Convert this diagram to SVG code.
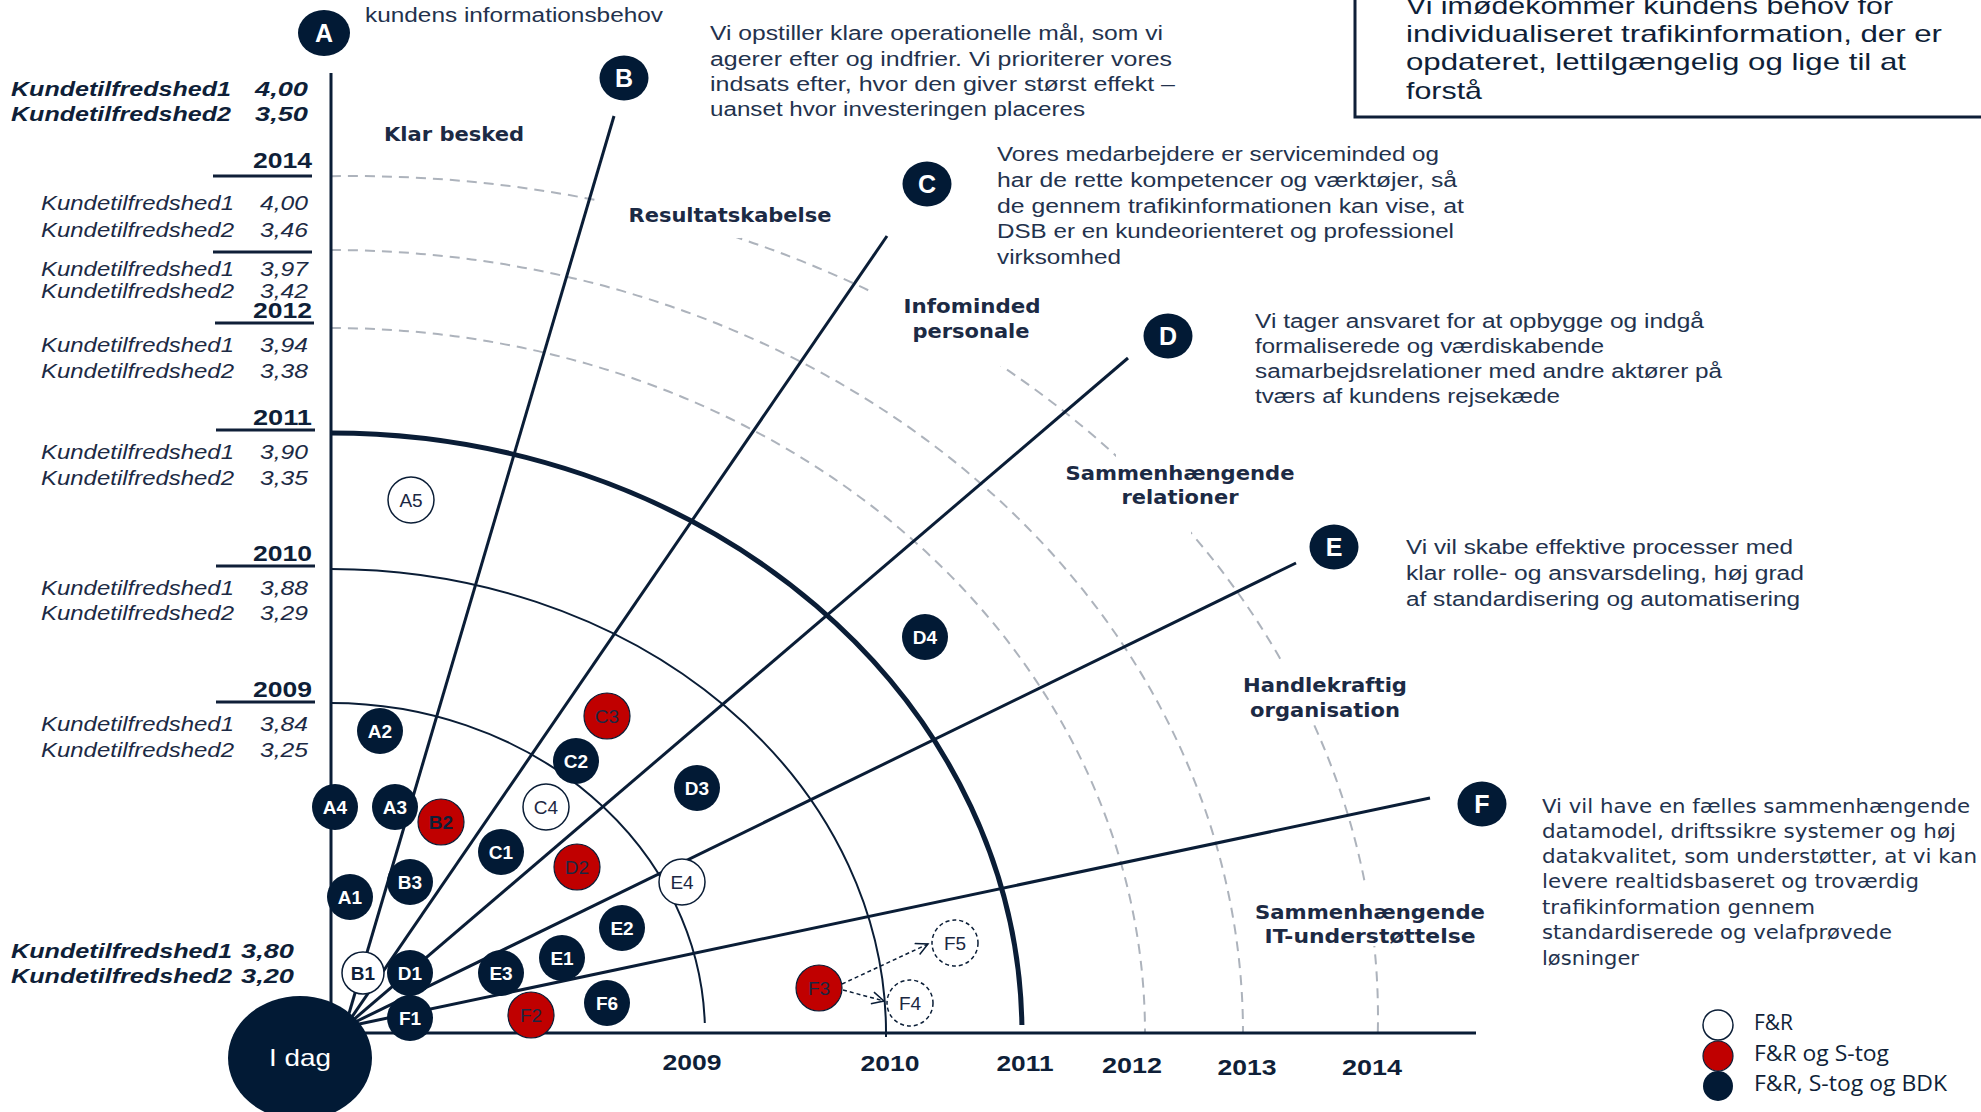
<svg xmlns="http://www.w3.org/2000/svg" width="1981" height="1112" viewBox="0 0 1981 1112">
<style>
.ln{stroke:#0a1d36;fill:none;stroke-width:3}
.arc{stroke:#0a1d36;fill:none;stroke-width:2}
.arcT{stroke:#0a1d36;fill:none;stroke-width:5}
.dash{stroke:#adb3bc;fill:none;stroke-width:2;stroke-dasharray:10 7}
.ul{stroke:#0f1f38;stroke-width:3}
.nv{fill:#021a35}
.rd{fill:#c00000;stroke:#0a1d36;stroke-width:1.2}
.wh{fill:#fff;stroke:#0a1d36;stroke-width:1.5}
.whd{fill:#fff;stroke:#0a1d36;stroke-width:1.5;stroke-dasharray:4 3}
.tw{font-family:"Liberation Sans",Arial,sans-serif;font-weight:bold;font-size:19px;fill:#fff;text-anchor:middle}
.tn{font-family:"Liberation Sans",Arial,sans-serif;font-size:19px;fill:#1b2742;text-anchor:middle}
.tnb{font-family:"Liberation Sans",Arial,sans-serif;font-weight:bold;font-size:19px;fill:#0f1f38;text-anchor:middle}
.hd{font-family:"Liberation Sans",Arial,sans-serif;font-weight:bold;font-size:25px;fill:#fff;text-anchor:middle}
.desc{font-family:"Liberation Sans",Arial,sans-serif;font-size:20px;fill:#23324d}
.descF{font-family:"DejaVu Sans",Verdana,sans-serif;font-size:19px;fill:#23324d}
.box{font-family:"Liberation Sans",Arial,sans-serif;font-size:24px;fill:#0f1f38}
.cat{font-family:"DejaVu Sans",Verdana,sans-serif;font-weight:bold;font-size:19px;fill:#1c2a44;text-anchor:middle}
.yr{font-family:"Liberation Sans",Arial,sans-serif;font-weight:bold;font-size:22px;fill:#0f1f38}
.ki{font-family:"Liberation Sans",Arial,sans-serif;font-style:italic;font-size:21px;fill:#1c2a44}
.kb{font-family:"Liberation Sans",Arial,sans-serif;font-style:italic;font-weight:bold;font-size:21px;fill:#0f1f38}
.leg{font-family:"Open Sans","Liberation Sans",sans-serif;font-size:21px;fill:#0f1f38}
.arw{stroke:#0a1d36;stroke-width:1.5;fill:none;stroke-dasharray:4 3}
</style>
<defs>
<marker id="arr" markerUnits="userSpaceOnUse" markerWidth="16" markerHeight="16" refX="13" refY="7" orient="auto">
<path d="M1,1 L13,7 L1,13" fill="none" stroke="#0a1d36" stroke-width="1.5"/>
</marker>
<mask id="gaps" maskUnits="userSpaceOnUse" x="0" y="0" width="1981" height="1112">
<rect x="0" y="0" width="1981" height="1112" fill="#fff"/>
<rect x="598" y="186" width="143" height="52" fill="#000"/>
<rect x="873" y="278" width="130" height="88" fill="#000"/>
<rect x="1116" y="438" width="75" height="100" fill="#000"/>
<rect x="1240" y="660" width="170" height="62" fill="#000"/>
<rect x="1250" y="882" width="240" height="64" fill="#000"/>
</mask>
</defs>
<rect x="0" y="0" width="1981" height="1112" fill="#fff"/>

<g id="box">
<rect x="1355" y="-6" width="700" height="123" fill="#fff" stroke="#0f1f38" stroke-width="3"/>
<text class="box" x="1406" y="14" textLength="487" lengthAdjust="spacingAndGlyphs">Vi imødekommer kundens behov for</text>
<text class="box" x="1406" y="42" textLength="536" lengthAdjust="spacingAndGlyphs">individualiseret trafikinformation, der er</text>
<text class="box" x="1406" y="70" textLength="500" lengthAdjust="spacingAndGlyphs">opdateret, lettilgængelig og lige til at</text>
<text class="box" x="1406" y="99" textLength="76" lengthAdjust="spacingAndGlyphs">forstå</text>
</g>

<g id="connectors">
<g id="dashed-arcs" mask="url(#gaps)">
<path class="dash" d="M331,328 A814,705 0 0 1 1145,1033"/>
<path class="dash" d="M331,250 A912,783 0 0 1 1243,1033"/>
<path class="dash" d="M331,176.2 A1026,841 0 0 1 1377.8,1033"/>
</g>
<path class="arc" d="M331,703 A374,330 0 0 1 704.8,1023"/>
<path class="arc" d="M331,569 A555,464 0 0 1 886,1037"/>
<path class="arcT" d="M331,433 A691,600 0 0 1 1021.9,1025"/>
<line class="ln" x1="331" y1="1010" x2="331" y2="73"/>
<line class="ln" x1="350" y1="1033" x2="1476" y2="1033"/>
<line class="ln" x1="345" y1="1027" x2="614" y2="116"/>
<line class="ln" x1="345" y1="1027" x2="887" y2="236"/>
<line class="ln" x1="345" y1="1027" x2="1128" y2="358"/>
<line class="ln" x1="345" y1="1027" x2="1296" y2="563"/>
<line class="ln" x1="345" y1="1027" x2="1430" y2="798"/>
<line class="arw" x1="842" y1="984" x2="928" y2="944" marker-end="url(#arr)"/>
<line class="arw" x1="843" y1="990" x2="884" y2="1001" marker-end="url(#arr)"/>
</g>

<g id="left-scale">
<text class="kb" x="11" y="96" textLength="220" lengthAdjust="spacingAndGlyphs">Kundetilfredshed1</text>
<text class="kb" x="308" y="96" text-anchor="end" textLength="53" lengthAdjust="spacingAndGlyphs">4,00</text>
<text class="kb" x="11" y="121" textLength="220" lengthAdjust="spacingAndGlyphs">Kundetilfredshed2</text>
<text class="kb" x="308" y="121" text-anchor="end" textLength="53" lengthAdjust="spacingAndGlyphs">3,50</text>

<text class="yr" x="312" y="168" text-anchor="end" textLength="59" lengthAdjust="spacingAndGlyphs">2014</text>
<line class="ul" x1="213" y1="176" x2="312" y2="176"/>
<text class="ki" x="41" y="210" textLength="193" lengthAdjust="spacingAndGlyphs">Kundetilfredshed1</text>
<text class="ki" x="308" y="210" text-anchor="end" textLength="48" lengthAdjust="spacingAndGlyphs">4,00</text>
<text class="ki" x="41" y="237" textLength="193" lengthAdjust="spacingAndGlyphs">Kundetilfredshed2</text>
<text class="ki" x="308" y="237" text-anchor="end" textLength="48" lengthAdjust="spacingAndGlyphs">3,46</text>
<line class="ul" x1="213" y1="252" x2="312" y2="252"/>
<text class="ki" x="41" y="276" textLength="193" lengthAdjust="spacingAndGlyphs">Kundetilfredshed1</text>
<text class="ki" x="308" y="276" text-anchor="end" textLength="48" lengthAdjust="spacingAndGlyphs">3,97</text>
<text class="ki" x="41" y="298" textLength="193" lengthAdjust="spacingAndGlyphs">Kundetilfredshed2</text>
<text class="ki" x="308" y="298" text-anchor="end" textLength="48" lengthAdjust="spacingAndGlyphs">3,42</text>
<text class="yr" x="312" y="318" text-anchor="end" textLength="59" lengthAdjust="spacingAndGlyphs">2012</text>
<line class="ul" x1="215" y1="323" x2="314" y2="323"/>
<text class="ki" x="41" y="352" textLength="193" lengthAdjust="spacingAndGlyphs">Kundetilfredshed1</text>
<text class="ki" x="308" y="352" text-anchor="end" textLength="48" lengthAdjust="spacingAndGlyphs">3,94</text>
<text class="ki" x="41" y="378" textLength="193" lengthAdjust="spacingAndGlyphs">Kundetilfredshed2</text>
<text class="ki" x="308" y="378" text-anchor="end" textLength="48" lengthAdjust="spacingAndGlyphs">3,38</text>

<text class="yr" x="312" y="425" text-anchor="end" textLength="59" lengthAdjust="spacingAndGlyphs">2011</text>
<line class="ul" x1="216" y1="430" x2="315" y2="430"/>
<text class="ki" x="41" y="459" textLength="193" lengthAdjust="spacingAndGlyphs">Kundetilfredshed1</text>
<text class="ki" x="308" y="459" text-anchor="end" textLength="48" lengthAdjust="spacingAndGlyphs">3,90</text>
<text class="ki" x="41" y="485" textLength="193" lengthAdjust="spacingAndGlyphs">Kundetilfredshed2</text>
<text class="ki" x="308" y="485" text-anchor="end" textLength="48" lengthAdjust="spacingAndGlyphs">3,35</text>

<text class="yr" x="312" y="561" text-anchor="end" textLength="59" lengthAdjust="spacingAndGlyphs">2010</text>
<line class="ul" x1="216" y1="566" x2="315" y2="566"/>
<text class="ki" x="41" y="595" textLength="193" lengthAdjust="spacingAndGlyphs">Kundetilfredshed1</text>
<text class="ki" x="308" y="595" text-anchor="end" textLength="48" lengthAdjust="spacingAndGlyphs">3,88</text>
<text class="ki" x="41" y="620" textLength="193" lengthAdjust="spacingAndGlyphs">Kundetilfredshed2</text>
<text class="ki" x="308" y="620" text-anchor="end" textLength="48" lengthAdjust="spacingAndGlyphs">3,29</text>

<text class="yr" x="312" y="697" text-anchor="end" textLength="59" lengthAdjust="spacingAndGlyphs">2009</text>
<line class="ul" x1="216" y1="702" x2="315" y2="702"/>
<text class="ki" x="41" y="731" textLength="193" lengthAdjust="spacingAndGlyphs">Kundetilfredshed1</text>
<text class="ki" x="308" y="731" text-anchor="end" textLength="48" lengthAdjust="spacingAndGlyphs">3,84</text>
<text class="ki" x="41" y="757" textLength="193" lengthAdjust="spacingAndGlyphs">Kundetilfredshed2</text>
<text class="ki" x="308" y="757" text-anchor="end" textLength="48" lengthAdjust="spacingAndGlyphs">3,25</text>

<text class="kb" x="11" y="958" textLength="221" lengthAdjust="spacingAndGlyphs">Kundetilfredshed1</text>
<text class="kb" x="294" y="958" text-anchor="end" textLength="53" lengthAdjust="spacingAndGlyphs">3,80</text>
<text class="kb" x="11" y="983" textLength="221" lengthAdjust="spacingAndGlyphs">Kundetilfredshed2</text>
<text class="kb" x="294" y="983" text-anchor="end" textLength="53" lengthAdjust="spacingAndGlyphs">3,20</text>
</g>

<g id="axis-years">
<text class="yr" x="692" y="1070" text-anchor="middle" textLength="59" lengthAdjust="spacingAndGlyphs">2009</text>
<text class="yr" x="890" y="1071" text-anchor="middle" textLength="59" lengthAdjust="spacingAndGlyphs">2010</text>
<text class="yr" x="1025" y="1071" text-anchor="middle" textLength="57" lengthAdjust="spacingAndGlyphs">2011</text>
<text class="yr" x="1132" y="1073" text-anchor="middle" textLength="60" lengthAdjust="spacingAndGlyphs">2012</text>
<text class="yr" x="1247" y="1075" text-anchor="middle" textLength="59" lengthAdjust="spacingAndGlyphs">2013</text>
<text class="yr" x="1372" y="1075" text-anchor="middle" textLength="60" lengthAdjust="spacingAndGlyphs">2014</text>
</g>

<g id="categories">
<text class="cat" x="454" y="141" textLength="140" lengthAdjust="spacingAndGlyphs">Klar besked</text>
<text class="cat" x="730" y="222" textLength="203" lengthAdjust="spacingAndGlyphs">Resultatskabelse</text>
<text class="cat" x="972" y="313" textLength="137" lengthAdjust="spacingAndGlyphs">Infominded</text>
<text class="cat" x="971" y="338" textLength="117" lengthAdjust="spacingAndGlyphs">personale</text>
<text class="cat" x="1180" y="480" textLength="229" lengthAdjust="spacingAndGlyphs">Sammenhængende</text>
<text class="cat" x="1180" y="504" textLength="117" lengthAdjust="spacingAndGlyphs">relationer</text>
<text class="cat" x="1325" y="692" textLength="164" lengthAdjust="spacingAndGlyphs">Handlekraftig</text>
<text class="cat" x="1325" y="717" textLength="150" lengthAdjust="spacingAndGlyphs">organisation</text>
<text class="cat" x="1370" y="919" textLength="230" lengthAdjust="spacingAndGlyphs">Sammenhængende</text>
<text class="cat" x="1370" y="943" textLength="211" lengthAdjust="spacingAndGlyphs">IT-understøttelse</text>
</g>

<g id="descriptions">
<text class="desc" x="365" y="22" textLength="298" lengthAdjust="spacingAndGlyphs">kundens informationsbehov</text>
<text class="desc" x="710" y="40" textLength="453" lengthAdjust="spacingAndGlyphs">Vi opstiller klare operationelle mål, som vi</text>
<text class="desc" x="710" y="66" textLength="462" lengthAdjust="spacingAndGlyphs">agerer efter og indfrier. Vi prioriterer vores</text>
<text class="desc" x="710" y="91" textLength="465" lengthAdjust="spacingAndGlyphs">indsats efter, hvor den giver størst effekt –</text>
<text class="desc" x="710" y="116" textLength="375" lengthAdjust="spacingAndGlyphs">uanset hvor investeringen placeres</text>

<text class="desc" x="997" y="161" textLength="442" lengthAdjust="spacingAndGlyphs">Vores medarbejdere er serviceminded og</text>
<text class="desc" x="997" y="187" textLength="460" lengthAdjust="spacingAndGlyphs">har de rette kompetencer og værktøjer, så</text>
<text class="desc" x="997" y="213" textLength="467" lengthAdjust="spacingAndGlyphs">de gennem trafikinformationen kan vise, at</text>
<text class="desc" x="997" y="238" textLength="457" lengthAdjust="spacingAndGlyphs">DSB er en kundeorienteret og professionel</text>
<text class="desc" x="997" y="264" textLength="124" lengthAdjust="spacingAndGlyphs">virksomhed</text>

<text class="desc" x="1255" y="328" textLength="449" lengthAdjust="spacingAndGlyphs">Vi tager ansvaret for at opbygge og indgå</text>
<text class="desc" x="1255" y="353" textLength="349" lengthAdjust="spacingAndGlyphs">formaliserede og værdiskabende</text>
<text class="desc" x="1255" y="378" textLength="467" lengthAdjust="spacingAndGlyphs">samarbejdsrelationer med andre aktører på</text>
<text class="desc" x="1255" y="403" textLength="305" lengthAdjust="spacingAndGlyphs">tværs af kundens rejsekæde</text>

<text class="desc" x="1406" y="554" textLength="387" lengthAdjust="spacingAndGlyphs">Vi vil skabe effektive processer med</text>
<text class="desc" x="1406" y="580" textLength="398" lengthAdjust="spacingAndGlyphs">klar rolle- og ansvarsdeling, høj grad</text>
<text class="desc" x="1406" y="606" textLength="394" lengthAdjust="spacingAndGlyphs">af standardisering og automatisering</text>

<text class="descF" x="1542" y="813" textLength="428" lengthAdjust="spacingAndGlyphs">Vi vil have en fælles sammenhængende</text>
<text class="descF" x="1542" y="838" textLength="414" lengthAdjust="spacingAndGlyphs">datamodel, driftssikre systemer og høj</text>
<text class="descF" x="1542" y="863" textLength="435" lengthAdjust="spacingAndGlyphs">datakvalitet, som understøtter, at vi kan</text>
<text class="descF" x="1542" y="888" textLength="377" lengthAdjust="spacingAndGlyphs">levere realtidsbaseret og troværdig</text>
<text class="descF" x="1542" y="914" textLength="273" lengthAdjust="spacingAndGlyphs">trafikinformation gennem</text>
<text class="descF" x="1542" y="939" textLength="350" lengthAdjust="spacingAndGlyphs">standardiserede og velafprøvede</text>
<text class="descF" x="1542" y="965" textLength="97" lengthAdjust="spacingAndGlyphs">løsninger</text>
</g>

<g id="node-A-head"><ellipse class="nv" cx="324" cy="33" rx="26" ry="23"/><text class="hd" x="324" y="42">A</text></g>
<g id="node-B-head"><ellipse class="nv" cx="624" cy="78" rx="24.5" ry="22.5"/><text class="hd" x="624" y="87">B</text></g>
<g id="node-C-head"><ellipse class="nv" cx="927" cy="184" rx="24.5" ry="22.5"/><text class="hd" x="927" y="193">C</text></g>
<g id="node-D-head"><ellipse class="nv" cx="1168" cy="336" rx="24.5" ry="22.5"/><text class="hd" x="1168" y="345">D</text></g>
<g id="node-E-head"><ellipse class="nv" cx="1334" cy="547" rx="24.5" ry="22.5"/><text class="hd" x="1334" y="556">E</text></g>
<g id="node-F-head"><ellipse class="nv" cx="1482" cy="804" rx="24.5" ry="22.5"/><text class="hd" x="1482" y="813">F</text></g>

<g id="node-A5"><circle class="wh" cx="411" cy="500" r="23"/><text class="tn" x="411" y="507">A5</text></g>
<g id="node-A2"><circle class="nv" cx="380" cy="731" r="23"/><text class="tw" x="380" y="738">A2</text></g>
<g id="node-C3"><circle class="rd" cx="607" cy="716" r="23"/><text class="tn" x="607" y="723">C3</text></g>
<g id="node-C2"><circle class="nv" cx="576" cy="761" r="23"/><text class="tw" x="576" y="768">C2</text></g>
<g id="node-D3"><circle class="nv" cx="697" cy="788" r="23"/><text class="tw" x="697" y="795">D3</text></g>
<g id="node-D4"><circle class="nv" cx="925" cy="637" r="23"/><text class="tw" x="925" y="644">D4</text></g>
<g id="node-A4"><circle class="nv" cx="335" cy="807" r="23"/><text class="tw" x="335" y="814">A4</text></g>
<g id="node-A3"><circle class="nv" cx="395" cy="807" r="23"/><text class="tw" x="395" y="814">A3</text></g>
<g id="node-B2"><circle class="rd" cx="441" cy="822" r="23"/><text class="tnb" x="441" y="829">B2</text></g>
<g id="node-C4"><circle class="wh" cx="546" cy="807" r="23"/><text class="tn" x="546" y="814">C4</text></g>
<g id="node-C1"><circle class="nv" cx="501" cy="852" r="23"/><text class="tw" x="501" y="859">C1</text></g>
<g id="node-D2"><circle class="rd" cx="577" cy="867" r="23"/><text class="tn" x="577" y="874">D2</text></g>
<g id="node-A1"><circle class="nv" cx="350" cy="897" r="23"/><text class="tw" x="350" y="904">A1</text></g>
<g id="node-B3"><circle class="nv" cx="410" cy="882" r="23"/><text class="tw" x="410" y="889">B3</text></g>
<g id="node-E4"><circle class="wh" cx="682" cy="882" r="23"/><text class="tn" x="682" y="889">E4</text></g>
<g id="node-E2"><circle class="nv" cx="622" cy="928" r="23"/><text class="tw" x="622" y="935">E2</text></g>
<g id="node-E1"><circle class="nv" cx="562" cy="958" r="23"/><text class="tw" x="562" y="965">E1</text></g>
<g id="node-E3"><circle class="nv" cx="501" cy="973" r="23"/><text class="tw" x="501" y="980">E3</text></g>
<g id="node-B1"><circle class="wh" cx="363" cy="973" r="21"/><text class="tnb" x="363" y="980">B1</text></g>
<g id="node-D1"><circle class="nv" cx="410" cy="973" r="23"/><text class="tw" x="410" y="980">D1</text></g>
<g id="node-F1"><circle class="nv" cx="410" cy="1018" r="23"/><text class="tw" x="410" y="1025">F1</text></g>
<g id="node-F2"><circle class="rd" cx="531" cy="1015" r="23"/><text class="tn" x="531" y="1022">F2</text></g>
<g id="node-F6"><circle class="nv" cx="607" cy="1003" r="23"/><text class="tw" x="607" y="1010">F6</text></g>
<g id="node-F3"><circle class="rd" cx="819" cy="988" r="23"/><text class="tn" x="819" y="995">F3</text></g>
<g id="node-F4"><circle class="whd" cx="910" cy="1003" r="23"/><text class="tn" x="910" y="1010">F4</text></g>
<g id="node-F5"><circle class="whd" cx="955" cy="943" r="23"/><text class="tn" x="955" y="950">F5</text></g>

<g id="node-Idag"><ellipse class="nv" cx="300" cy="1058" rx="72" ry="62"/><text x="300" y="1066" text-anchor="middle" font-family="Liberation Sans, Arial, sans-serif" font-size="24" fill="#fff" textLength="62" lengthAdjust="spacingAndGlyphs">I dag</text></g>

<g id="legend">
<circle cx="1718" cy="1025" r="15" fill="#fff" stroke="#0a1d36" stroke-width="1.5"/>
<circle cx="1718" cy="1056" r="15" fill="#c00000" stroke="#0a1d36" stroke-width="1.2"/>
<circle cx="1718" cy="1086" r="15" fill="#021a35"/>
<text class="leg" x="1754" y="1030" textLength="39" lengthAdjust="spacingAndGlyphs">F&amp;R</text>
<text class="leg" x="1754" y="1061" textLength="135" lengthAdjust="spacingAndGlyphs">F&amp;R og S-tog</text>
<text class="leg" x="1754" y="1091" textLength="193" lengthAdjust="spacingAndGlyphs">F&amp;R, S-tog og BDK</text>
</g>
</svg>
